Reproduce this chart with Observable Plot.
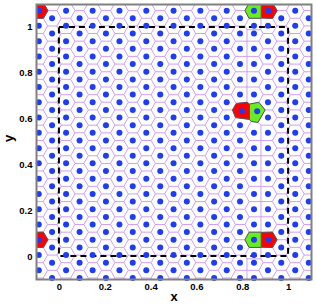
<!DOCTYPE html>
<html><head><meta charset="utf-8">
<script src="https://cdn.jsdelivr.net/npm/d3@7"></script>
<script src="https://cdn.jsdelivr.net/npm/@observablehq/plot@0.6"></script>
<style>body{margin:0;background:#fff;font-family:"Liberation Sans",Arial,sans-serif}</style>
</head><body><div id="chart"></div>
<script>
// particle columns inside the unit periodic box (x of column, y of its particles)
const colX = [0.029, 0.088, 0.145, 0.203, 0.262, 0.320, 0.379, 0.440, 0.498, 0.556, 0.615, 0.675, 0.730, 0.788, 0.849, 0.910, 0.968];
const colY = [
  [0.007,0.073,0.140,0.207,0.273,0.340,0.407,0.473,0.540,0.607,0.673,0.740,0.807,0.873,0.940],
  [0.040,0.107,0.173,0.240,0.307,0.373,0.440,0.507,0.573,0.640,0.707,0.773,0.840,0.907,0.973],
  [0.007,0.073,0.140,0.207,0.273,0.340,0.407,0.473,0.540,0.607,0.673,0.740,0.807,0.873,0.940],
  [0.040,0.107,0.173,0.240,0.307,0.373,0.440,0.507,0.573,0.640,0.707,0.773,0.840,0.907,0.973],
  [0.007,0.073,0.140,0.207,0.273,0.340,0.407,0.473,0.540,0.607,0.673,0.740,0.807,0.873,0.940],
  [0.040,0.107,0.173,0.240,0.307,0.373,0.440,0.507,0.573,0.640,0.707,0.773,0.840,0.907,0.973],
  [0.007,0.073,0.140,0.207,0.273,0.340,0.407,0.473,0.540,0.607,0.673,0.740,0.807,0.873,0.940],
  [0.040,0.107,0.173,0.240,0.307,0.373,0.440,0.507,0.573,0.640,0.707,0.773,0.840,0.907,0.973],
  [0.007,0.073,0.140,0.207,0.273,0.340,0.407,0.473,0.540,0.607,0.673,0.740,0.807,0.873,0.940],
  [0.040,0.107,0.173,0.240,0.307,0.373,0.440,0.507,0.573,0.640,0.707,0.773,0.840,0.907,0.973],
  [0.007,0.073,0.140,0.207,0.273,0.340,0.407,0.473,0.540,0.607,0.673,0.740,0.807,0.873,0.940],
  [0.040,0.107,0.173,0.240,0.307,0.373,0.440,0.507,0.573,0.640,0.707,0.773,0.840,0.907,0.973],
  [0.007,0.073,0.140,0.207,0.273,0.340,0.407,0.473,0.540,0.607,0.673,0.740,0.807,0.873,0.940],
  [0.040,0.107,0.173,0.240,0.307,0.373,0.440,0.507,0.573,0.707,0.773,0.840,0.907,0.973],
  [0.007,0.140,0.207,0.273,0.340,0.407,0.473,0.540,0.707,0.773,0.840,0.907,0.973],
  [0.007,0.140,0.207,0.273,0.340,0.407,0.473,0.540,0.607,0.673,0.740,0.807,0.873,0.940],
  [0.040,0.107,0.173,0.240,0.307,0.373,0.440,0.507,0.573,0.640,0.707,0.773,0.840,0.907,0.973]
];
const redX = [0.912, 0.796];
const redY = [0.073, 0.634];
const greenX = [0.849, 0.863];
const greenY = [0.073, 0.634];
const xTicks = [0, 0.2, 0.4, 0.6, 0.8, 1];
const yTicks = [0, 0.2, 0.4, 0.6, 0.8, 1];
const boxX = [0, 1];
const boxY = [0, 1];

const base = [];
colX.forEach((x, i) => colY[i].forEach(y => base.push({x, y, c: null})));
redX.forEach((x, i) => base.push({x, y: redY[i], c: "#ff0000"}));
greenX.forEach((x, i) => base.push({x, y: greenY[i], c: "#66ee22"}));
// periodic images
const pts = [];
for (const p of base) for (const dx of [-1, 0, 1]) for (const dy of [-1, 0, 1]) {
  const x = p.x + dx, y = p.y + dy;
  if (x > -0.4 && x < 1.4 && y > -0.4 && y < 1.4) pts.push({x, y, c: p.c});
}
const vis = pts.filter(p => p.x >= -0.1 && p.x <= 1.1 && p.y >= -0.1 && p.y <= 1.1);
const box = [{x1: boxX[0], x2: boxX[1], y1: boxY[0], y2: boxY[1]}];

const chart = Plot.plot({
  width: 316, height: 308,
  marginLeft: 36, marginRight: 5, marginTop: 4, marginBottom: 29,
  style: {fontFamily: "'Liberation Sans', Arial, sans-serif", background: "#fff"},
  x: {domain: [-0.1, 1.1]},
  y: {domain: [-0.1, 1.1]},
  color: {type: "identity"},
  marks: [
    Plot.voronoiMesh(pts, {x: "x", y: "y", stroke: "#cc94f2", strokeWidth: 0.9, strokeOpacity: 1}),
    Plot.voronoi(pts, {x: "x", y: "y", fill: d => d.c ?? "none", stroke: d => d.c ? "#555555" : "none", strokeWidth: 1}),
    Plot.rect(box, {x1: "x1", x2: "x2", y1: "y1", y2: "y2", fill: "none", stroke: "#000", strokeWidth: 2, strokeDasharray: "6,4"}),
    Plot.dot(vis, {x: "x", y: "y", r: 3, fill: "#1f3cf5", stroke: "none"}),
    Plot.frame({stroke: "#808080", strokeWidth: 2}),
    Plot.axisX({ticks: xTicks, tickSize: 0, tickPadding: 4, tickFormat: d => String(d), fontSize: 9.5, fontWeight: "bold", label: null}),
    Plot.axisY({ticks: yTicks, tickSize: 0, tickPadding: 4, tickFormat: d => String(d), fontSize: 9.5, fontWeight: "bold", label: null}),
    Plot.text(["x"], {frameAnchor: "bottom", dy: 21, fontSize: 13, fontWeight: "bold", fill: "#000"}),
    Plot.text(["y"], {frameAnchor: "left", dx: -28, rotate: -90, fontSize: 13, fontWeight: "bold", fill: "#000"})
  ]
});
document.getElementById("chart").appendChild(chart);
</script>
</body></html>
